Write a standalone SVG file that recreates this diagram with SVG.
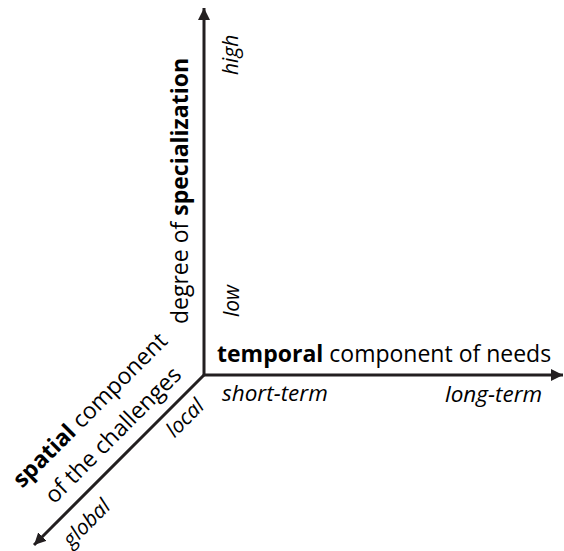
<svg xmlns="http://www.w3.org/2000/svg" width="564" height="551" viewBox="0 0 564 551">
<defs>
<style>
.ax{stroke:#231f20;stroke-width:3;fill:none}
.lbl{font-family:"Open Sans","Liberation Sans",sans-serif;font-size:23px;fill:#000}
.it{font-family:"Open Sans","Liberation Sans",sans-serif;font-size:21px;font-style:italic;fill:#000}
.it2{font-size:22.5px}
.b{font-weight:bold}
</style>
<marker id="ah" markerUnits="userSpaceOnUse" markerWidth="14" markerHeight="14" refX="12" refY="6" orient="auto">
<path d="M0,0 L12,6 L0,12 Z" fill="#231f20"/>
</marker>
</defs>
<rect width="564" height="551" fill="#fff"/>
<g id="connectors">
<line class="ax" x1="204" y1="376" x2="204" y2="8" marker-end="url(#ah)"/>
<line class="ax" x1="203" y1="375" x2="563" y2="375" marker-end="url(#ah)"/>
<line class="ax" x1="204" y1="375" x2="34" y2="545" marker-end="url(#ah)"/>
</g>
<g id="axis-temporal">
<text class="lbl" x="217" y="362"><tspan class="b">temporal</tspan> component of needs</text>
<text class="it it2" x="222" y="401">short-term</text>
<text class="it it2" x="445" y="402">long-term</text>
</g>
<g id="axis-specialization">
<text class="lbl" transform="translate(188,324) rotate(-90)">degree of <tspan class="b">specialization</tspan></text>
<text class="it" transform="translate(238,75) rotate(-90)">high</text>
<text class="it" transform="translate(239,317) rotate(-90)">low</text>
</g>
<g id="axis-spatial">
<text class="lbl" text-anchor="middle" transform="translate(95.5,415.5) rotate(-45)"><tspan class="b">spatial</tspan> component</text>
<text class="lbl" text-anchor="middle" transform="translate(118.5,440.5) rotate(-45)">of the challenges</text>
<text class="it" text-anchor="middle" transform="translate(190,423) rotate(-45)">local</text>
<text class="it" text-anchor="middle" transform="translate(91.5,528) rotate(-45)">global</text>
</g>
</svg>
